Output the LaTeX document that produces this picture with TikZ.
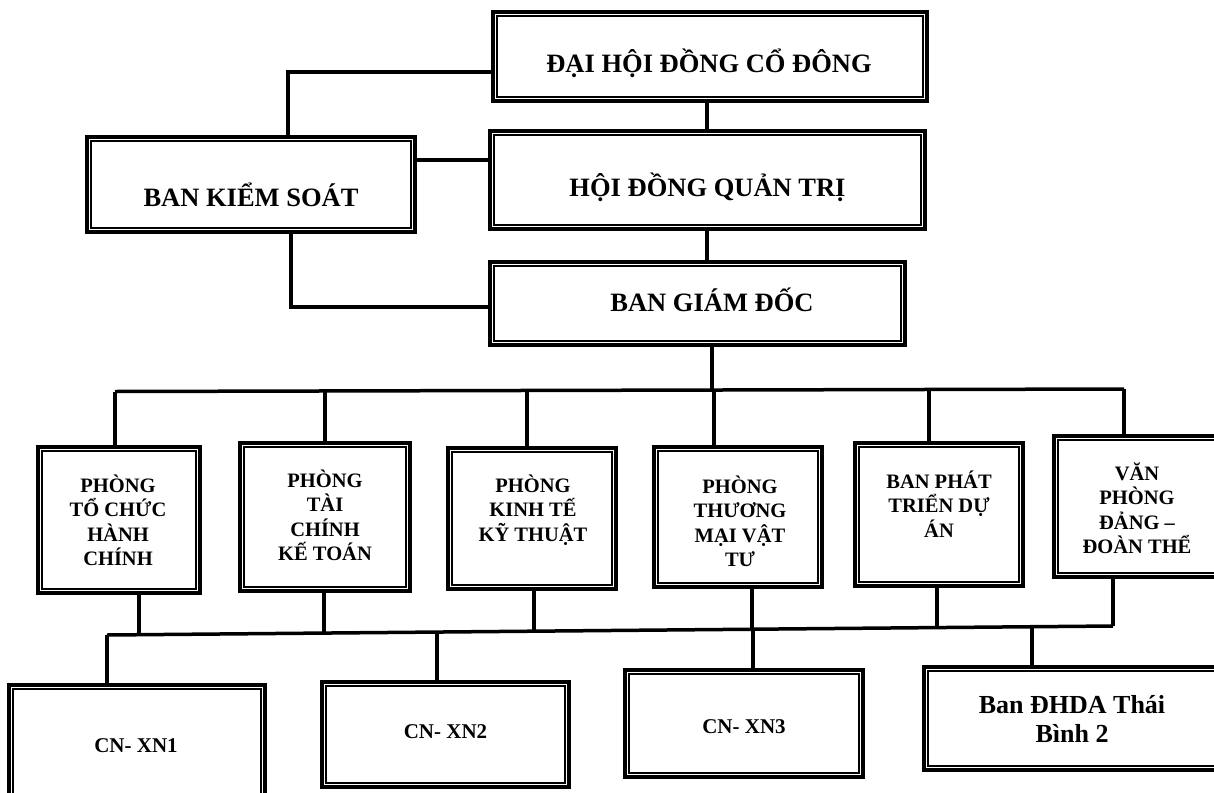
\documentclass[tikz,border=0pt]{standalone}
\usepackage{fontspec}
\setmainfont{Liberation Serif}
\tikzset{
  conn/.style={line width=3.5pt},
  dbox/.style={draw, line width=3.4pt, fill=white, inner sep=0pt},
  ibox/.style={line width=1.9pt},
  tbig/.style={font=\bfseries\fontsize{26.5}{30}\selectfont, anchor=base, inner sep=0pt},
  tmid/.style={font=\bfseries\fontsize{21}{25}\selectfont, anchor=base, inner sep=0pt},
  tdep/.style={font=\bfseries\fontsize{20.5}{24.5}\selectfont, align=center, anchor=north, inner sep=0pt},
  tban/.style={font=\bfseries\fontsize{26}{29}\selectfont, align=center, anchor=north, inner sep=0pt},
}
\newcommand\mkbox[5]{%
  \node[dbox, minimum width=#4pt, minimum height=#5pt] (#1) at (#2,#3) {};
  \draw[ibox] ([shift={(5.5pt,-5.5pt)}]#1.north west) rectangle ([shift={(-5.5pt,5.5pt)}]#1.south east);
}
\begin{document}
\begin{tikzpicture}[x=1pt,y=-1pt]
\useasboundingbox (0,0) rectangle (1214,792);
\clip (0,0) rectangle (1214,792);
\fill[white] (0,0) rectangle (1214,792);

% top level boxes
\mkbox{dh}{710}{56.5}{434}{89}
\mkbox{hd}{707.5}{180}{435}{98}
\mkbox{bks}{251}{184.5}{328}{95}
\mkbox{bgd}{697.5}{303.5}{415}{83}

% departments
\mkbox{p1}{119}{520}{162}{146}
\mkbox{p2}{325}{517}{170}{148}
\mkbox{p3}{532}{518.5}{168}{141}
\mkbox{p4}{738}{517}{168}{140}
\mkbox{p5}{939}{514.5}{168}{143}
\mkbox{p6}{1137}{506.5}{166}{141}

% bottom units
\mkbox{c1}{137}{745}{256}{120}
\mkbox{c2}{445.5}{734.5}{247}{105}
\mkbox{c3}{744}{723.5}{238}{107}
\mkbox{c4}{1074.5}{718.5}{301}{103}

% texts
\node[tbig] (dht) at (709,72) {ĐẠI HỘI ĐỒNG CỔ ĐÔNG};
\node[tbig] (hdt) at (707.5,196) {HỘI ĐỒNG QUẢN TRỊ};
\node[tbig] (bkst) at (251,206) {BAN KIỂM SOÁT};
\node[tbig] (bgdt) at (712,311) {BAN GIÁM ĐỐC};

\node[tdep] (p1t) at (118,471) {\rule{0pt}{21pt}PHÒNG\\TỔ CHỨC\\HÀNH\\CHÍNH};
\node[tdep] (p2t) at (325,466) {\rule{0pt}{21pt}PHÒNG\\TÀI\\CHÍNH\\KẾ TOÁN};
\node[tdep] (p3t) at (533,471) {\rule{0pt}{21pt}PHÒNG\\KINH TẾ\\KỸ THUẬT};
\node[tdep] (p4t) at (740,472) {\rule{0pt}{21pt}PHÒNG\\THƯƠNG\\MẠI VẬT\\TƯ};
\node[tdep] (p5t) at (939,467) {\rule{0pt}{21pt}BAN PHÁT\\TRIỂN DỰ\\ÁN};
\node[tdep] (p6t) at (1137,459) {\rule{0pt}{21pt}VĂN\\PHÒNG\\ĐẢNG –\\ĐOÀN THỂ};

\node[tmid] (c1t) at (136,752) {CN- XN1};
\node[tmid] (c2t) at (445.5,738) {CN- XN2};
\node[tmid] (c3t) at (744,733) {CN- XN3};
\node[tban] (c4t) at (1072,688) {\rule{0pt}{25pt}Ban ĐHDA Thái\\Bình 2};

% junction coordinates
\coordinate (j1) at (288,72);
\coordinate (j2) at (707,0);
\coordinate (j3) at (0,160);
\coordinate (j4) at (291,307);
\coordinate (j6) at (712,390);
\coordinate (u1) at (115,391.5);
\coordinate (u2) at (325,391);
\coordinate (u3) at (527,390.5);
\coordinate (u4) at (714,390);
\coordinate (u5) at (929,389.5);
\coordinate (u6) at (1124,389);
\coordinate (l1) at (139,634.7);
\coordinate (l2) at (324,633.1);
\coordinate (l3) at (534,631.2);
\coordinate (l4) at (752,629.2);
\coordinate (l5) at (937,627.6);
\coordinate (l6) at (1113,626);
\coordinate (d1) at (107,635);
\coordinate (d2) at (437,632);
\coordinate (d3) at (753,629.2);
\coordinate (d4) at (1032,626.7);

% top connectors
\draw[conn] (dh.west |- j1) -| (bks.north -| j1);
\draw[conn] (dh.south -| j2) -- (hd.north -| j2);
\draw[conn] (bks.east |- j3) -- (hd.west |- j3);
\draw[conn] (bks.south -| j4) |- (bgd.west |- j4);
\draw[conn] (hd.south -| j2) -- (bgd.north -| j2);
\draw[conn] (bgd.south -| j6) -- (j6);

% upper bus and drops
\draw[conn] (u1) -- (u6);
\draw[conn] (u1) -- (p1.north -| u1);
\draw[conn] (u2) -- (p2.north -| u2);
\draw[conn] (u3) -- (p3.north -| u3);
\draw[conn] (u4) -- (p4.north -| u4);
\draw[conn] (u5) -- (p5.north -| u5);
\draw[conn] (u6) -- (p6.north -| u6);

% lower bus
\draw[conn] (p1.south -| l1) -- (l1);
\draw[conn] (p2.south -| l2) -- (l2);
\draw[conn] (p3.south -| l3) -- (l3);
\draw[conn] (p4.south -| l4) -- (l4);
\draw[conn] (p5.south -| l5) -- (l5);
\draw[conn] (p6.south -| l6) -- (l6);
\draw[conn] (d1) -- (l6);
\draw[conn] (d1) -- (c1.north -| d1);
\draw[conn] (d2) -- (c2.north -| d2);
\draw[conn] (d3) -- (c3.north -| d3);
\draw[conn] (d4) -- (c4.north -| d4);
\end{tikzpicture}
\end{document}
